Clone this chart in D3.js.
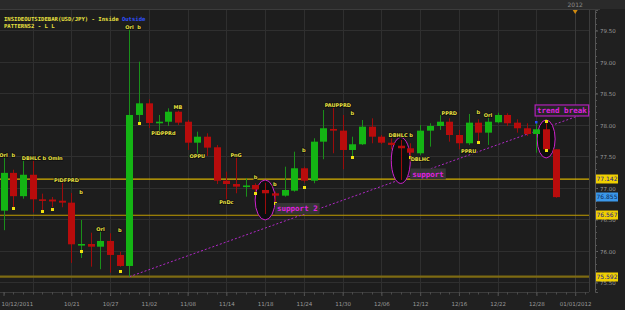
<!DOCTYPE html>
<html><head><meta charset="utf-8">
<script src="https://cdn.jsdelivr.net/npm/d3@7"></script>
<style>html,body{margin:0;padding:0;background:#202020;overflow:hidden}svg{display:block}</style>
</head><body><svg id="c" width="625" height="310"></svg>
<script>
// ---- data ----
const opens  = [76.64,77.24,76.87,77.21,76.82,76.817,76.798,76.767,76.095,76.111,76.068,76.159,75.937,75.762,78.159,78.344,78.043,78.052,78.211,78.052,77.719,77.814,77.646,77.116,77.063,77.029,77.048,76.968,76.916,76.878,76.957,77.313,77.116,77.735,77.937,77.910,77.603,77.694,77.973,77.814,77.719,77.671,77.630,77.551,77.910,77.984,78.052,77.841,77.710,78.037,77.878,78.043,78.159,78.037,77.948,77.857,77.932,77.614];
const highs  = [77.48,77.29,77.44,77.49,76.91,76.857,77.084,76.921,76.492,76.290,76.333,76.281,75.989,79.560,79.005,78.408,78.159,78.265,78.227,78.079,77.894,77.868,77.683,77.259,77.497,77.154,77.075,77.084,76.941,77.338,77.576,77.338,77.789,78.238,78.290,78.159,77.814,78.079,78.106,77.841,77.789,77.762,77.710,78.000,78.027,78.159,78.106,77.921,78.175,78.090,78.175,78.195,78.186,78.090,78.027,78.052,78.027,77.614];
const lows   = [76.33,76.70,76.83,76.61,76.64,76.698,76.694,75.810,75.889,75.751,75.710,75.656,75.750,75.592,78.027,77.952,77.873,77.984,78.000,77.603,77.524,77.508,77.063,76.821,76.916,76.862,76.889,76.587,76.757,76.862,76.941,77.084,77.075,77.456,77.551,77.297,77.497,77.683,77.710,77.698,77.614,77.127,77.497,77.524,77.656,77.921,77.735,77.614,77.683,77.735,77.683,78.027,77.984,77.878,77.825,77.560,77.603,76.845];
const closes = [77.24,76.87,77.21,76.82,76.805,76.786,76.767,76.106,76.111,76.068,76.159,75.937,75.762,78.159,78.344,78.032,78.052,78.211,78.037,77.719,77.814,77.640,77.116,77.063,77.021,77.040,76.979,76.916,76.878,76.968,77.313,77.116,77.735,77.948,77.910,77.603,77.694,77.973,77.814,77.719,77.683,77.630,77.560,77.910,77.984,78.052,77.841,77.710,78.037,77.878,78.052,78.159,78.027,77.948,77.857,77.932,77.614,76.855];

const dateLabels = ["10/12/2011","10/21","10/27","11/02","11/08","11/14","11/18","11/24","11/30","12/06","12/12","12/16","12/22","12/28","01/01/2012"];
const dateIdx    = [0,7,11,15,19,23,27,31,35,39,43,47,51,55,59];
const gridIdx    = [3,7,11,15,19,23,27,31,35,39,43,47,51,55,59];
const priceTicks = [75.5,76.0,76.5,77.0,77.5,78.0,78.5,79.0,79.5];

const levelValues = [77.142, 76.567, 75.592];
const lastPrice = 76.855;

const trendIdx = [13, 60.5];
const trendPrice = [75.592, 78.21];

const patText  = ["Orl","b","DBHLC b Omln","PIDFPRD","b","Orl","b","Orl","b","PiDPPRd","MB","OPPU","PnG","PnDc","b","b","b","PAUPPRD","b","DBHLC b","DBLHC","PPRD","b","Orl","PPRU"];
const patIdx   = [0,1,4,6.5,8,10,12,13,14,16.5,18,20,24,23,26,28,31,34.5,36,41,43,46,49,50,48];
const patPrice = [77.52,77.52,77.48,77.12,76.94,76.35,76.33,79.556,79.556,77.873,78.29,77.513,77.524,76.783,77.18,77.063,77.603,78.317,78.19,77.841,77.456,78.195,78.21,78.154,77.583];

const markIdx   = [1,4,5,8,12,14,26,28,31,36,42,49,56,56];
const markPrice = [76.683,76.64,76.67,76.0,75.687,78.024,76.92,76.767,77.02,77.497,77.497,77.725,78.068,77.603];

const dotIdx   = [3,10,13,55];
const dotPrice = [77.48,76.35,79.556,78.048];

const ellIdx   = [27,41,56];
const ellPrice = [76.81,77.437,77.778];
const ellNote  = ["support 2","support","trend break"];

// ---- layout ----
const W=625,H=310, L=0, R=589, T=10, B=292;
const svg=d3.select("#c");
const x=d3.scaleLinear().domain([0,59]).range([3.5,575.2]);
const y=d3.scaleLinear().domain([75.349,79.825]).range([B,T]);

svg.append("rect").attr("width",W).attr("height",H).attr("fill","#202020");
svg.append("rect").attr("x",0).attr("y",0).attr("width",W).attr("height",T-1).attr("fill","#2a2a2a");
svg.append("rect").attr("x",L).attr("y",T).attr("width",R-L).attr("height",B-T).attr("fill","#1d1d1d");

const g=svg.append("g");
g.selectAll(".hg").data(priceTicks).join("line")
 .attr("x1",L).attr("x2",R).attr("y1",d=>Math.round(y(d))+0.5).attr("y2",d=>Math.round(y(d))+0.5)
 .attr("stroke","#2f2f2f");
g.selectAll(".vg").data(gridIdx).join("line")
 .attr("x1",d=>Math.round(x(d))+0.5).attr("x2",d=>Math.round(x(d))+0.5).attr("y1",T).attr("y2",B)
 .attr("stroke",(d,i)=>i===gridIdx.length-1?"#3a3a3a":"#2f2f2f");
svg.append("line").attr("x1",0).attr("x2",600).attr("y1",T-0.5).attr("y2",T-0.5).attr("stroke","#3c3c3c");
svg.append("line").attr("x1",R+0.5).attr("x2",R+0.5).attr("y1",T).attr("y2",B).attr("stroke","#3c3c3c");
svg.append("line").attr("x1",0).attr("x2",R).attr("y1",B+0.5).attr("y2",B+0.5).attr("stroke","#3c3c3c");

// right axis
const ya=d3.axisRight(y).tickValues(priceTicks).tickSize(3).tickFormat(d3.format(".2f"));
const yAxisG=svg.append("g").attr("transform",`translate(${R+6},0)`).call(ya);
yAxisG.select(".domain").attr("stroke","#555");
yAxisG.selectAll(".tick line").attr("stroke","#666");
yAxisG.selectAll("text").attr("fill","#9a9a9a").attr("font-family","DejaVu Sans").attr("font-size","5.5px").attr("x",5).attr("dy","0.45em");
const minor=d3.range(75.4,79.81,0.1);
svg.append("g").selectAll("line").data(minor).join("line")
 .attr("x1",R+6).attr("x2",R+8).attr("y1",d=>Math.round(y(d))+0.5).attr("y2",d=>Math.round(y(d))+0.5).attr("stroke","#555");

// bottom axis
const xa=d3.axisBottom(x).tickValues(dateIdx).tickSize(4).tickFormat((d,i)=>dateLabels[i]);
const xAxisG=svg.append("g").attr("transform",`translate(0,${B})`).call(xa);
xAxisG.select(".domain").remove();
xAxisG.selectAll(".tick line").attr("stroke","#555");
xAxisG.selectAll("text").attr("fill","#9a9a9a").attr("font-family","DejaVu Sans").attr("font-size","5.5px").attr("y",10);
xAxisG.selectAll("text").filter((d,i)=>i===0).attr("text-anchor","start").attr("x",-2.5);
svg.append("g").selectAll("line").data(d3.range(0,61)).join("line")
 .attr("x1",d=>Math.round(x(d))+0.5).attr("x2",d=>Math.round(x(d))+0.5).attr("y1",B).attr("y2",B+2.5).attr("stroke","#4a4a4a");

// top year marker
svg.append("text").attr("x",x(59)).attr("y",6.5).attr("text-anchor","middle").attr("fill","#8a8a8a")
 .attr("font-family","DejaVu Sans").attr("font-size","6px").text("2012");
svg.append("path").attr("d",`M${x(59)-2.5},${T} L${x(59)+2.5},${T} L${x(59)},${T+4} Z`).attr("fill","#d08a10");

// level lines
const levelColors=["#d6b000","#c09c00","#7d6a12"];
const levelWidths=[1.2,1.2,2.2];
g.selectAll(".lvl").data(levelValues).join("line")
 .attr("x1",L).attr("x2",R).attr("y1",d=>y(d)).attr("y2",d=>y(d))
 .attr("stroke",(d,i)=>levelColors[i]).attr("stroke-width",(d,i)=>levelWidths[i]);

// trend line
svg.append("line").attr("x1",x(trendIdx[0])).attr("y1",y(trendPrice[0])).attr("x2",x(trendIdx[1])).attr("y2",y(trendPrice[1]))
 .attr("stroke","#b228c8").attr("stroke-width",1).attr("stroke-dasharray","2,2");

// ellipses
const ellRx=[10,9.5,9], ellRy=[20,23,19];
svg.selectAll(".ell").data(ellIdx).join("ellipse")
 .attr("cx",(d)=>x(d)).attr("cy",(d,i)=>y(ellPrice[i])).attr("rx",(d,i)=>ellRx[i]).attr("ry",(d,i)=>ellRy[i])
 .attr("fill","#0e0e0e").attr("stroke","#cc22cc").attr("stroke-width",1);

// candles
const data=opens.map((o,i)=>({i,o,h:highs[i],l:lows[i],c:closes[i]}));
const up=d=>d.c>=d.o;
const cg=svg.append("g");
cg.selectAll(".wick").data(data).join("line")
 .attr("x1",d=>Math.round(x(d.i))+0.5).attr("x2",d=>Math.round(x(d.i))+0.5)
 .attr("y1",d=>y(d.h)).attr("y2",d=>y(d.l))
 .attr("stroke",d=>up(d)?"#1a8f1a":"#9c0c0c").attr("stroke-width",1);
cg.selectAll(".body").data(data).join("rect")
 .attr("x",d=>Math.round(x(d.i))-3).attr("width",7)
 .attr("y",d=>Math.min(y(d.o),y(d.c)))
 .attr("height",d=>Math.max(1.6,Math.abs(y(d.o)-y(d.c))))
 .attr("fill",d=>up(d)?"#14b414":"#b80c0c");

// markers
svg.selectAll(".mk").data(markIdx).join("rect")
 .attr("x",d=>Math.round(x(d))-1).attr("y",(d,i)=>Math.round(y(markPrice[i]))-1).attr("width",3).attr("height",3)
 .attr("fill","#f0e010");
svg.selectAll(".dt").data(dotIdx).join("rect")
 .attr("x",d=>Math.round(x(d))-1).attr("y",(d,i)=>Math.round(y(dotPrice[i]))-1).attr("width",2.5).attr("height",2.5)
 .attr("fill","#2a4cff");

// pattern labels
svg.selectAll(".pt").data(patText).join("text")
 .attr("x",(d,i)=>x(patIdx[i])).attr("y",(d,i)=>y(patPrice[i])+2)
 .attr("text-anchor","middle").attr("font-family","DejaVu Sans").attr("font-weight","bold").attr("font-size","5px")
 .attr("fill","#e8e040").attr("stroke","#101010").attr("stroke-width",1.6).attr("paint-order","stroke")
 .text(d=>d);

// notes
const noteBoxes=svg.append("g");
ellIdx.forEach((d,i)=>{
  let bx,by;
  const t=ellNote[i];
  const tw=t.length*4.5+4;
  if(i<2){ bx=x(d)+ellRx[i]; by=y(ellPrice[i])+(i===0?3:8); }
  else { bx=x(d)-11; by=y(ellPrice[i])-34; }
  const grp=noteBoxes.append("g");
  grp.append("rect").attr("x",bx).attr("y",by).attr("width",tw).attr("height",11)
    .attr("fill",i===2?"#262626":"#353535").attr("stroke",i===2?"#b020b8":"none").attr("stroke-width",1.2);
  grp.append("text").attr("x",bx+tw/2).attr("y",by+8.2).attr("text-anchor","middle")
    .attr("font-family","DejaVu Sans Mono").attr("font-weight","bold").attr("font-size","7.5px")
    .attr("fill","#e020e0").text(t);
});

// level labels
const lvlG=svg.append("g");
levelValues.forEach(v=>{
  lvlG.append("rect").attr("x",596).attr("y",Math.round(y(v))-4.5).attr("width",22).attr("height",9).attr("fill","#f0d000");
  lvlG.append("text").attr("x",607).attr("y",Math.round(y(v))+2.2).attr("text-anchor","middle")
    .attr("font-family","DejaVu Sans").attr("font-size","6px").attr("fill","#1a2090").text(v.toFixed(3));
});
lvlG.append("rect").attr("x",596).attr("y",Math.round(y(lastPrice))-4.5).attr("width",22).attr("height",9).attr("fill","#3b98ea");
lvlG.append("text").attr("x",607).attr("y",Math.round(y(lastPrice))+2.2).attr("text-anchor","middle")
  .attr("font-family","DejaVu Sans").attr("font-size","6px").attr("fill","#0c2a5a").text(lastPrice.toFixed(3));

// title
const t1=svg.append("text").attr("x",4).attr("y",21.3).attr("font-family","DejaVu Sans Mono").attr("font-weight","bold").attr("font-size","5.6px");
t1.append("tspan").attr("fill","#e8e040").text("INSIDEOUTSIDEBAR(USD/JPY) - Inside ");
t1.append("tspan").attr("fill","#3050ff").text("Outside");
svg.append("text").attr("x",4).attr("y",27.5).attr("font-family","DejaVu Sans Mono").attr("font-weight","bold").attr("font-size","5.6px")
 .attr("fill","#e8e040").text("PATTERNS2 - L L");
</script></body></html>
